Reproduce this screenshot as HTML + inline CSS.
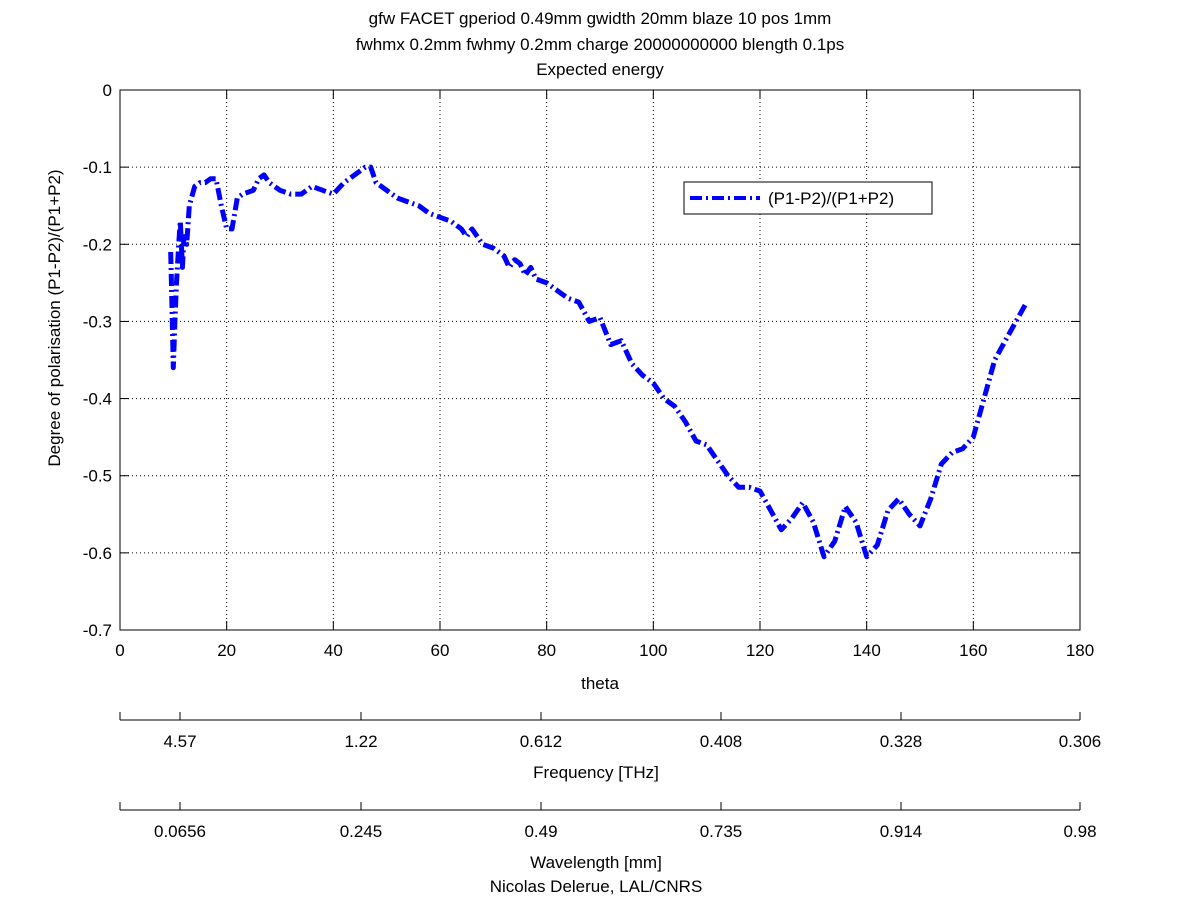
<!DOCTYPE html>
<html><head><meta charset="utf-8"><style>
body{margin:0;background:#fff}
svg text{font-family:"Liberation Sans",sans-serif;font-size:17px;fill:#000}
</style></head><body>
<svg id="chart" width="1200" height="901" xmlns="http://www.w3.org/2000/svg">
<g id="titles" text-anchor="middle">
<text x="600" y="24">gfw FACET gperiod 0.49mm gwidth 20mm blaze 10 pos 1mm</text>
<text x="600" y="50">fwhmx 0.2mm fwhmy 0.2mm charge 20000000000 blength 0.1ps</text>
<text x="600" y="75">Expected energy</text>
</g>
<g id="grid"></g>
<rect x="120" y="90" width="960" height="540" fill="none" stroke="#000" stroke-width="1"/>
<g id="ticks"></g>
<g id="series"></g>
<text x="600" y="689" text-anchor="middle">theta</text>
<text transform="translate(60,318) rotate(-90)" text-anchor="middle">Degree of polarisation (P1-P2)/(P1+P2)</text>
<g id="freqaxis"></g>
<text x="596" y="778" text-anchor="middle">Frequency [THz]</text>
<g id="wlaxis"></g>
<text x="596" y="868" text-anchor="middle">Wavelength [mm]</text>
<text x="596" y="892" text-anchor="middle">Nicolas Delerue, LAL/CNRS</text>
<g>
<rect x="684" y="182" width="248" height="32" fill="#fff" stroke="#000"/>
<line x1="690" y1="198" x2="760" y2="198" stroke="#0000ff" stroke-width="4" stroke-dasharray="12,4,2,4"/>
<text x="768" y="204">(P1-P2)/(P1+P2)</text>
</g>
</svg>
<script>
const xTicks=[0,20,40,60,80,100,120,140,160,180];
const yTicks=[0,-0.1,-0.2,-0.3,-0.4,-0.5,-0.6,-0.7];
const theta=[9.5,9.8,10,10.3,10.6,11,11.3,11.7,12,12.5,13,14,15,16,17,18,19,20,21,22,23,25,26,27,28,30,32,34,36,38,40,42,44,46,47,48,50,52,54,56,58,60,62,64,65,66,67,68,70,72,73,74,75,76,77,78,80,82,84,86,88,90,92,94,96,98,100,102,104,106,108,110,112,114,116,118,120,122,124,126,128,130,132,134,136,138,140,142,144,146,148,150,152,154,156,158,160,162,164,166,168,170];
const polarisation=[-0.21,-0.30,-0.36,-0.30,-0.25,-0.2,-0.17,-0.23,-0.19,-0.2,-0.15,-0.125,-0.12,-0.12,-0.115,-0.115,-0.15,-0.18,-0.18,-0.14,-0.135,-0.13,-0.115,-0.11,-0.12,-0.13,-0.135,-0.135,-0.125,-0.13,-0.135,-0.12,-0.11,-0.1,-0.1,-0.12,-0.13,-0.14,-0.145,-0.15,-0.16,-0.165,-0.17,-0.18,-0.19,-0.18,-0.19,-0.2,-0.205,-0.215,-0.23,-0.22,-0.225,-0.24,-0.23,-0.245,-0.25,-0.26,-0.27,-0.275,-0.3,-0.295,-0.33,-0.325,-0.355,-0.37,-0.38,-0.4,-0.41,-0.43,-0.455,-0.46,-0.48,-0.5,-0.515,-0.515,-0.52,-0.545,-0.57,-0.555,-0.535,-0.56,-0.605,-0.585,-0.54,-0.56,-0.605,-0.59,-0.545,-0.53,-0.55,-0.565,-0.53,-0.485,-0.47,-0.465,-0.45,-0.4,-0.35,-0.325,-0.3,-0.275];
const freqLabels=["4.57","1.22","0.612","0.408","0.328","0.306"];
const wlLabels=["0.0656","0.245","0.49","0.735","0.914","0.98"];
const secTickPos=[180,361,541,721,901,1080];
const NS="http://www.w3.org/2000/svg";
const X=t=>120+t/180*960, Y=v=>90-v/0.7*540;
function mk(tag,attrs,parent,txt){const e=document.createElementNS(NS,tag);for(const k in attrs)e.setAttribute(k,attrs[k]);if(txt!==undefined)e.textContent=txt;parent.appendChild(e);return e;}
const grid=document.getElementById('grid'),ticks=document.getElementById('ticks');
xTicks.forEach(t=>{
 if(t>0&&t<180){const g=mk('line',{x1:X(t),x2:X(t),y1:90,y2:630,stroke:'#000','stroke-dasharray':'1,3'},grid);
 }
 mk('line',{x1:X(t),x2:X(t),y1:630,y2:621,stroke:'#000'},ticks);
 mk('line',{x1:X(t),x2:X(t),y1:90,y2:99,stroke:'#000'},ticks);
 const l=mk('text',{x:X(t),y:656,'text-anchor':'middle'},ticks,String(t));
 
});
yTicks.forEach(v=>{
 if(v<0&&v>-0.7){const g=mk('line',{x1:120,x2:1080,y1:Y(v),y2:Y(v),stroke:'#000','stroke-dasharray':'1,3'},grid);
 }
 mk('line',{x1:120,x2:129,y1:Y(v),y2:Y(v),stroke:'#000'},ticks);
 mk('line',{x1:1080,x2:1071,y1:Y(v),y2:Y(v),stroke:'#000'},ticks);
 const l=mk('text',{x:112,y:Y(v)+6,'text-anchor':'end'},ticks,String(v));
 
});
const pts=theta.map((t,i)=>X(t).toFixed(1)+','+Y(polarisation[i]).toFixed(1)).join(' ');
const pl=mk('polyline',{points:pts,fill:'none',stroke:'#0000ff','stroke-width':5,'stroke-dasharray':'12,4,2,4','stroke-linejoin':'round'},document.getElementById('series'));

function secAxis(id,y,labels){const g=document.getElementById(id);
 mk('line',{x1:120,x2:1080,y1:y,y2:y,stroke:'#000'},g);
 secTickPos.forEach((p,i)=>{mk('line',{x1:p,x2:p,y1:y,y2:y-8,stroke:'#000'},g);
  const l=mk('text',{x:p,y:y+27,'text-anchor':'middle'},g,labels[i]);
  });
 [120].forEach(p=>mk('line',{x1:p,x2:p,y1:y,y2:y-8,stroke:'#000'},g));}
secAxis('freqaxis',720,freqLabels);
secAxis('wlaxis',810,wlLabels);
</script>
</body></html>
